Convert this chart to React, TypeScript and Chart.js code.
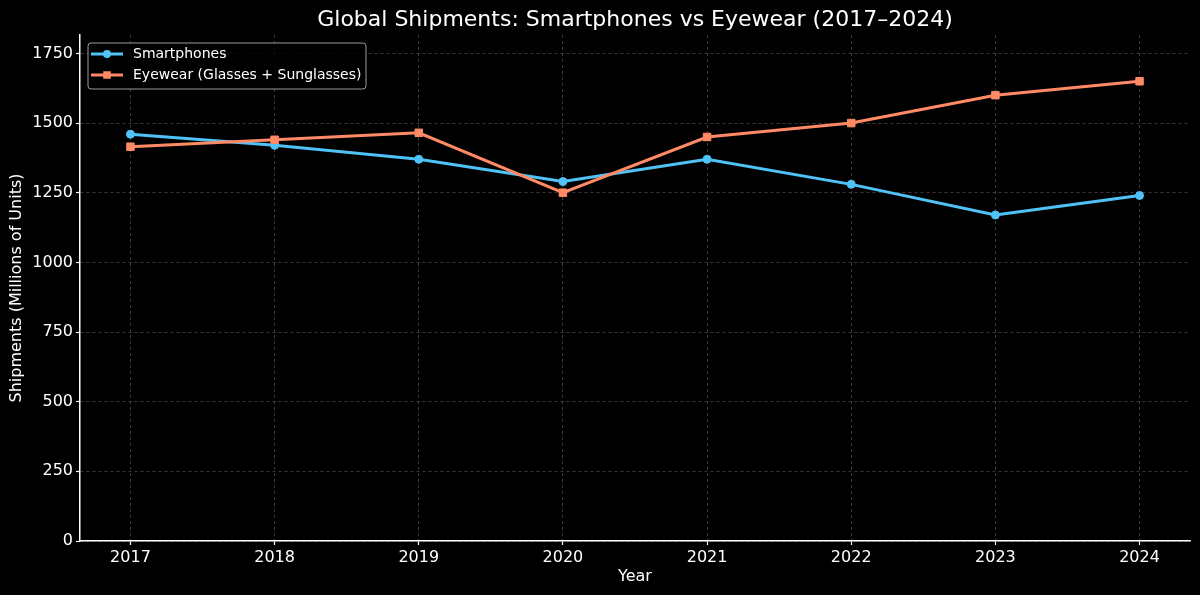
import React, { useEffect, useRef } from 'react';
import { Chart, registerables } from 'chart.js';

Chart.register(...registerables);

const years = [2017, 2018, 2019, 2020, 2021, 2022, 2023, 2024];
const smartphones = [1460, 1420, 1370, 1290, 1370, 1280, 1170, 1240];
const eyewear = [1415, 1440, 1465, 1250, 1450, 1500, 1600, 1650];
const yTicks = [0, 250, 500, 750, 1000, 1250, 1500, 1750];

const titleText = 'Global Shipments: Smartphones vs Eyewear (2017\u20132024)';
const xTitle = 'Year';
const yTitle = 'Shipments (Millions of Units)';

const BLUE = '#4FC3F7';
const ORANGE = '#FF8A65';
const FONT = "'DejaVu Sans', sans-serif";

const legendPlugin = {
  id: 'boxLegend',
  afterDraw(chart: any) {
    const ctx = chart.ctx as CanvasRenderingContext2D;
    const area = chart.chartArea;
    const x0 = area.left + 8;
    const y0 = area.top + 8;
    const w = 278;
    const h = 46;
    ctx.save();
    ctx.beginPath();
    const r = 3;
    ctx.moveTo(x0 + r, y0);
    ctx.arcTo(x0 + w, y0, x0 + w, y0 + h, r);
    ctx.arcTo(x0 + w, y0 + h, x0, y0 + h, r);
    ctx.arcTo(x0, y0 + h, x0, y0, r);
    ctx.arcTo(x0, y0, x0 + w, y0, r);
    ctx.closePath();
    ctx.fillStyle = 'rgba(0,0,0,0.8)';
    ctx.fill();
    ctx.strokeStyle = '#9a9a9a';
    ctx.lineWidth = 1;
    ctx.stroke();
    const items = chart.data.datasets;
    items.forEach((ds: any, i: number) => {
      const cy = y0 + 11 + i * 21;
      ctx.strokeStyle = ds.borderColor;
      ctx.lineWidth = 3;
      ctx.beginPath();
      ctx.moveTo(x0 + 3, cy);
      ctx.lineTo(x0 + 35, cy);
      ctx.stroke();
      ctx.fillStyle = ds.borderColor;
      if (ds.pointStyle === 'rect') {
        ctx.fillRect(x0 + 19 - 3.75, cy - 3.75, 7.5, 7.5);
      } else {
        ctx.beginPath();
        ctx.arc(x0 + 19, cy, 4, 0, Math.PI * 2);
        ctx.fill();
      }
      ctx.fillStyle = '#ffffff';
      ctx.font = `14px ${FONT}`;
      ctx.textBaseline = 'middle';
      ctx.textAlign = 'left';
      ctx.fillText(ds.label, x0 + 45, cy);
    });
    ctx.restore();
  },
};

export default function App() {
  const ref = useRef<HTMLCanvasElement | null>(null);

  useEffect(() => {
    document.body.style.margin = '0';
    document.body.style.background = '#000';
    const canvas = ref.current;
    if (!canvas) return;
    Chart.defaults.font.family = FONT;
    const chart = new Chart(canvas, {
      type: 'line',
      data: {
        datasets: [
          {
            label: 'Smartphones',
            data: years.map((y, i) => ({ x: y, y: smartphones[i] })),
            borderColor: BLUE,
            backgroundColor: BLUE,
            borderWidth: 3,
            pointStyle: 'circle',
            pointRadius: 4,
            pointBorderWidth: 1,
            pointBackgroundColor: BLUE,
            pointBorderColor: BLUE,
            tension: 0,
            order: 1,
          },
          {
            label: 'Eyewear (Glasses + Sunglasses)',
            data: years.map((y, i) => ({ x: y, y: eyewear[i] })),
            borderColor: ORANGE,
            backgroundColor: ORANGE,
            borderWidth: 3,
            pointStyle: 'rect',
            pointRadius: 5.3,
            pointBorderWidth: 1,
            pointBackgroundColor: ORANGE,
            pointBorderColor: ORANGE,
            tension: 0,
            order: 0,
          },
        ],
      },
      options: {
        responsive: false,
        animation: false,
        devicePixelRatio: 1,
        layout: { padding: { left: 0, right: 10, top: 0, bottom: 0 } },
        plugins: {
          legend: { display: false },
          tooltip: { enabled: false },
          title: {
            display: true,
            text: titleText,
            color: '#ffffff',
            fullSize: false,
            font: { size: 22, weight: 'normal', lineHeight: 1.2 },
            padding: { top: 7, bottom: 1.6 },
          },
        },
        scales: {
          x: {
            type: 'linear',
            min: 2016.65,
            max: 2024.35,
            afterBuildTicks: (scale: any) => {
              scale.ticks = years.map((v) => ({ value: v }));
            },
            afterFit: (scale: any) => {
              scale.height = 54;
            },
            ticks: {
              color: '#ffffff',
              font: { size: 16 },
              padding: 3,
              maxRotation: 0,
              autoSkip: false,
              callback: (v: any) => String(v),
            },
            grid: {
              color: 'rgba(120,120,120,0.6)',
              lineWidth: 0.8,
              tickColor: '#ffffff',
              tickLength: 4,
              tickWidth: 1.2,
              tickBorderDash: [],
            },
            border: { display: true, color: '#ffffff', width: 1.5, dash: [3, 3] },
            title: {
              display: true,
              text: xTitle,
              color: '#ffffff',
              font: { size: 16 },
              padding: { top: 0, bottom: 9 },
            },
          },
          y: {
            type: 'linear',
            min: 0,
            max: 1816,
            afterBuildTicks: (scale: any) => {
              scale.ticks = yTicks.map((v) => ({ value: v }));
            },
            afterFit: (scale: any) => {
              scale.width = 80;
            },
            ticks: {
              color: '#ffffff',
              font: { size: 16 },
              padding: 3,
              callback: (v: any) => String(v),
            },
            grid: {
              color: 'rgba(120,120,120,0.6)',
              lineWidth: 0.8,
              tickColor: '#ffffff',
              tickLength: 4,
              tickWidth: 1.2,
              tickBorderDash: [],
            },
            border: { display: true, color: '#ffffff', width: 1.5, dash: [3, 3] },
            title: {
              display: true,
              text: yTitle,
              color: '#ffffff',
              font: { size: 16 },
              padding: { top: 7, bottom: 0 },
            },
          },
        },
      },
      plugins: [legendPlugin],
    } as any);
    return () => chart.destroy();
  }, []);

  return (
    <div style={{ width: 1200, height: 595, background: '#000' }}>
      <canvas ref={ref} width={1200} height={595} style={{ display: 'block' }} />
    </div>
  );
}
